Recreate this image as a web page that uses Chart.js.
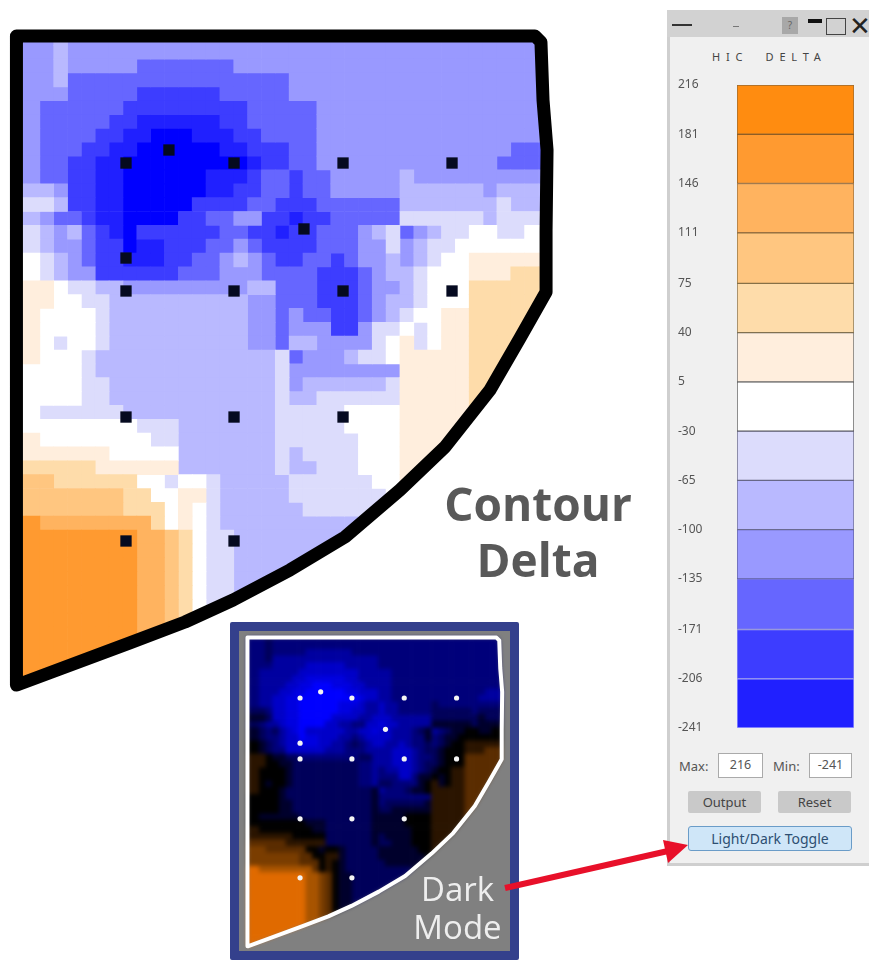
<!DOCTYPE html>
<html>
<head>
<meta charset="utf-8">
<title>HIC Delta</title>
<script src="https://cdn.jsdelivr.net/npm/chart.js@4/dist/chart.umd.min.js"></script>
<style>
  html, body { margin: 0; padding: 0; background: #fff; }
  body { width: 869px; height: 960px; position: relative; overflow: hidden; font-family: "Noto Sans", sans-serif; }
  canvas { position: absolute; }
  .abs { position: absolute; white-space: nowrap; }
  #mapLight { left: 0; top: 0; filter: blur(0.7px); }
  .bigLabel { left: 410px; width: 256px; text-align: center; font: bold 46px "Open Sans", sans-serif; color: #595959; }
  #insetBox { left: 230px; top: 622px; width: 271px; height: 320px; border: 9px solid #34408c; border-radius: 2px; background: #808080; overflow: hidden; }
  #mapDark { left: 0; top: 0; filter: blur(2.2px); }
  #mapDarkTop { left: 0; top: 0; filter: blur(0.5px); }
  .insetText { left: 405px; width: 105px; text-align: center; font: 33px "Open Sans", sans-serif; color: #eee; }
  #panel { left: 667px; top: 10px; width: 202px; height: 856px; background: #f0f0f0; box-sizing: border-box; border-left: 3px solid #cfcfcf; border-bottom: 3px solid #cfcfcf; }
  #titlebar { left: 667px; top: 10px; width: 202px; height: 27px; background: #d2d2d2; }
  #legendBar { left: 668px; top: 70px; }
  .small { font-size: 13px; color: #555; }
  .box { background: #fff; border: 1px solid #aaa; box-sizing: border-box; text-align: center; font-size: 12.5px; line-height: 22px; color: #555; height: 25px; }
  .btn { background: #c9c9c9; text-align: center; font-size: 13px; color: #444; height: 22px; line-height: 22px; border-radius: 2px; }
</style>
</head>
<body>
<canvas id="mapLight" width="565" height="700"></canvas>

<div class="abs bigLabel" style="top:472px">Contour</div>
<div class="abs bigLabel" style="top:528px">Delta</div>

<div class="abs" id="insetBox">
  <canvas id="mapDark" width="271" height="322"></canvas>
  <canvas id="mapDarkTop" width="271" height="322"></canvas>
</div>
<div class="abs insetText" style="top:866px">Dark</div>
<div class="abs insetText" style="top:904px">Mode</div>

<div class="abs" id="panel"></div>
<div class="abs" id="titlebar"></div>
<div class="abs" style="left:672px;top:24px;width:20px;height:2px;background:#333"></div>
<div class="abs" style="left:733px;top:26px;width:6px;height:1px;background:#777"></div>
<div class="abs" style="left:782px;top:17px;width:16px;height:17px;background:#a8a8a8;color:#666;font-size:10px;text-align:center;line-height:17px">?</div>
<div class="abs" style="left:808px;top:19px;width:14px;height:4px;background:#111"></div>
<div class="abs" style="left:826px;top:18px;width:18px;height:15px;border:1px solid #444;box-sizing:content-box"></div>
<div class="abs" style="left:849px;top:12px;font-size:26px;line-height:26px;color:#222">&#x2715;</div>
<div class="abs" style="left:712px;top:49px;font-size:11px;letter-spacing:5.8px;color:#444">HIC&nbsp;&nbsp;DELTA</div>

<canvas id="legendBar" width="195" height="670"></canvas>

<div class="abs small" style="left:679px;top:757px">Max:</div>
<div class="abs box" style="left:718px;top:753px;width:45px">216</div>
<div class="abs small" style="left:773px;top:757px">Min:</div>
<div class="abs box" style="left:809px;top:753px;width:43px">-241</div>
<div class="abs btn" style="left:688px;top:791px;width:73px">Output</div>
<div class="abs btn" style="left:778px;top:791px;width:73px">Reset</div>
<div class="abs" style="left:688px;top:826px;width:164px;height:25px;box-sizing:border-box;background:#cfe6f8;border:1px solid #6a9cc8;border-radius:3px;text-align:center;font-size:14px;line-height:23px;color:#2d4f72">Light/Dark Toggle</div>

<svg class="abs" style="left:0;top:0" width="869" height="960">
  <line x1="505" y1="888" x2="668" y2="851" stroke="#e8102a" stroke-width="6"/>
  <polygon points="688,845 663,840 668,863" fill="#e8102a"/>
</svg>

<script>
/* Mapa de contorno HIC delta: cada letra es un nivel de la escala */

const gridRows = [
  "iiihi",
  "iiihi",
  "iiihiiiiijjjjjjji",
  "iiihjjjjjjjjjjjjjjjji",
  "iiiijjjjjkkkkkkjjjjji",
  "iijjjjjjkkkkkkkkkjjjjji",
  "iijjjjjkkllllllkkjjjjji",
  "iijjjjkkllmmmlllkkjjjji",
  "iijjjkkllmmmmmmllkkkjjiiiiiiiiiiiiiijjj",
  "iijjkkllmmmmmmmmmlkkjjiiiiiiiiiiiiijjjj",
  "iijjkkllmmmmmmlllkjjkjjiiiiihi",
  "hhhikkllmmmmmmllkkjjkjjiiiiihhhhhhih",
  "ggghkkllmmmmmkkkkjjkkkjjjjjjhhhhhhhgh",
  "hhijjkllmmmmkkjjiikklkkjjjjjgggggghg",
  "gghihjklmkkkkkkjjkklkkjjjihgjihggwwggw",
  "gghiijkkmllkkkjjijkkkkjjjiigihggw",
  "wwghijkklllkkjjihijkkjjkjiihihgwwf",
  "wwghiikkkkkkjjjiiijjjjkkkjihhgwwwfffe",
  "fffwgghhiiiiiiiiihhjjjkkkjiihgwwwe",
  "fffwwgghhhhhhhhhhiijjjkkkjihhgwwwe",
  "ffwwwwghhhhhhhhhhiijijjkkjihgwwffe",
  "ffwwwwghhhhhhhhhhiijiiikkiggwgwffe",
  "ffwgwwghhhhhhhhhhiijhhiiiigwfgwffe",
  "ffwwwghhhhhhhhhhhhhgjiiihggwfffffe",
  "wwwwwghhhhhhhhhhhhhgiiiiiiiifffffe",
  "wwwwwgghhhhhhhhhhhhgihhhhhhgfffffe",
  "wwwwwgghhhhhhhhhhhhghhggggggfffffe",
  "wwgggggghhhhhhhhhhhgggggwwwwfffffe",
  "wwwwwwwwwggghhhhhhhgggggwwwwfffffe",
  "ffwwwwwwwwgghhhhhhhggggggwwwfffffe",
  "fffffffwwwwwhhhhhhhghggggwwwfffffe",
  "eeeeeeffffffhhhhhhhghhgggwwwfffffe",
  "dddeeeeeewwgwwghhhhhggggggwwf",
  "ddddddddeewwffghhhhhgggggggwf",
  "ddddddddeeewfwghhhhhhggggggwf",
  "bbccccccccewfwghhhhhhhhhhg",
  "bbbbbbbbbccdewggh",
  "bbbbbbbbbccdewggh",
  "bbbbbbbbbccdewggh",
  "bbbbbbbbbccdewggh",
  "bbbbbbbbbccdewggh",
  "bbbbbbbbbccdewggh",
  "bbbbbbbbbccdewwgh",
  "bbbbbbbbbccdewwgh",
  "bbbbbbbbbccdewwgh",
  "bbbbbbbbbccdewwgh",
  "bbbbbbbbbccdewwgh",
  "bbbbbbbbbccdewwgh",
];
const gridCols = 39;

const levelKeys = ["a", "b", "c", "d", "e", "f", "w", "g", "h", "i", "j", "k", "l", "m"];
const lightColors = ["#ff8c10", "#ff9a30", "#ffb35f", "#ffc680", "#fedcaa", "#ffeedd", "#ffffff", "#dcdcfc", "#b9b9ff", "#9999ff", "#6666ff", "#3d3dff", "#2020ff", "#0000ff"];
const darkColors = ["#ff7f00", "#e06a00", "#a85400", "#7a3d00", "#5a2c00", "#2a1400", "#000000", "#00002c", "#00005a", "#00007a", "#0000a0", "#0000c8", "#0000e0", "#0000ff"];

// Contorno del panel, en unidades de celda
const outlineX = [0.31, 37.75, 38.18, 38.33, 38.62, 38.55, 38.55, 36.67, 34.5, 31.25, 28, 24.03, 20.06, 15.95, 12.48, 8.5, 0.35, 0.31];
const outlineY = [0.33, 0.33, 0.76, 4.95, 8.56, 14.34, 18.81, 22.13, 25.89, 30, 33.11, 36.5, 38.88, 41.05, 42.64, 44.15, 47.19, 0.33];

// Puntos de impacto
const dotX = [8.22, 11.32, 16.02, 23.89, 31.76, 21.07, 8.22, 8.22, 16.02, 23.89, 31.76, 8.22, 16.02, 23.89, 8.22, 16.02];
const dotY = [9.5, 8.56, 9.5, 9.5, 9.5, 14.26, 16.36, 18.74, 18.74, 18.74, 18.74, 27.84, 27.84, 27.84, 36.79, 36.79];

// Escala lateral
const tickValues = [216, 181, 146, 111, 75, 40, 5, -30, -65, -100, -135, -171, -206, -241];
const bandColors = lightColors.slice(0, 13);
const bandEdges = ["#9a6a30", "#8a5a20", "#9a7040", "#8a7040", "#807050", "#666666", "#555555", "#666680", "#6a6a90", "#6060a0", "#8080d0", "#9090f0", "#a0a0ff"];

function cellsFor(key) {
  const cells = [];
  gridRows.forEach((row, r) => {
    const full = row.padEnd(gridCols, row[row.length - 1]);
    for (let c = 0; c < gridCols; c++) {
      if (full[c] === key) cells.push({ x: c + 0.5, y: [r, r + 1] });
    }
  });
  return cells;
}

const outlinePoints = outlineX.map((x, i) => ({ x, y: outlineY[i] }));
const dotPoints = dotX.map((x, i) => ({ x, y: dotY[i] }));

// Recorta las celdas al contorno para que no se salgan en la diagonal
const clipToOutline = {
  id: "clipToOutline",
  beforeDatasetDraw(chart, args) {
    if (args.meta.type !== "bar") return;
    const { ctx, scales } = chart;
    ctx.save();
    ctx.beginPath();
    outlinePoints.forEach((p, i) => {
      const px = scales.x.getPixelForValue(p.x);
      const py = scales.y.getPixelForValue(p.y);
      if (i === 0) ctx.moveTo(px, py);
      else ctx.lineTo(px, py);
    });
    ctx.closePath();
    ctx.clip();
  },
  afterDatasetDraw(chart, args) {
    if (args.meta.type === "bar") chart.ctx.restore();
  },
};

function mapOptions(padding) {
  return {
    responsive: false,
    animation: false,
    devicePixelRatio: 1,
    layout: { padding, autoPadding: false },
    plugins: { legend: { display: false }, tooltip: { enabled: false } },
    scales: {
      x: { type: "linear", min: 0, max: gridCols, offset: false, stacked: true, display: false },
      y: { type: "linear", min: 0, max: gridRows.length, reverse: true, display: false },
    },
  };
}

function cellSets(palette) {
  return levelKeys.map((key, i) => ({
    type: "bar",
    data: cellsFor(key),
    backgroundColor: palette[i],
    barPercentage: 1,
    categoryPercentage: 1,
    clip: false,
    order: 3,
  }));
}

function markSets(lineColor, lineWidth, dotColor, dotStyle, dotRadius) {
  return [
    {
      type: "line",
      data: outlinePoints,
      borderColor: lineColor,
      borderWidth: lineWidth,
      borderJoinStyle: "round",
      borderCapStyle: "round",
      pointRadius: 0,
      tension: 0,
      clip: false,
      order: 2,
    },
    {
      type: "scatter",
      data: dotPoints,
      backgroundColor: dotColor,
      borderWidth: 0,
      pointStyle: dotStyle,
      pointRadius: dotRadius,
      clip: false,
      order: 1,
    },
  ];
}

const lightPadding = { left: 12.15, top: 31.45, right: 12.7, bottom: 3.75 };
const darkPadding = { left: 6.4, top: 4.4, right: 5.3, bottom: 1.3 };

new Chart(document.getElementById("mapLight"), {
  type: "bar",
  plugins: [clipToOutline],
  data: { datasets: [...cellSets(lightColors), ...markSets("#000", 13, "#050a20", "rect", 8)] },
  options: mapOptions(lightPadding),
});

new Chart(document.getElementById("mapDark"), {
  type: "bar",
  plugins: [clipToOutline],
  data: { datasets: cellSets(darkColors) },
  options: mapOptions(darkPadding),
});

new Chart(document.getElementById("mapDarkTop"), {
  type: "scatter",
  data: { datasets: markSets("#fff", 4, "#f4f4f4", "circle", 2.6) },
  options: mapOptions(darkPadding),
});

new Chart(document.getElementById("legendBar"), {
  type: "bar",
  data: {
    labels: [""],
    datasets: bandColors.map((color, i) => ({
      data: [[tickValues[i + 1], tickValues[i]]],
      backgroundColor: color,
      borderColor: bandEdges[i],
      borderWidth: 1,
      borderSkipped: false,
      barPercentage: 1,
      categoryPercentage: 1,
    })),
  },
  options: {
    responsive: false,
    animation: false,
    devicePixelRatio: 1,
    layout: { padding: { left: 10, top: 15, right: 9, bottom: 12 } },
    plugins: { legend: { display: false }, tooltip: { enabled: false } },
    scales: {
      x: { stacked: true, display: false },
      y: {
        min: -241,
        max: 216,
        grid: { display: false },
        border: { display: false },
        afterFit: (s) => { s.width = 59; },
        afterBuildTicks: (s) => { s.ticks = tickValues.map((value) => ({ value })); },
        ticks: {
          autoSkip: false,
          crossAlign: "far",
          padding: 0,
          color: "#555",
          font: { family: "Noto Sans", size: 12 },
          callback: (v) => String(v),
        },
      },
    },
  },
});
</script>
</body>
</html>
